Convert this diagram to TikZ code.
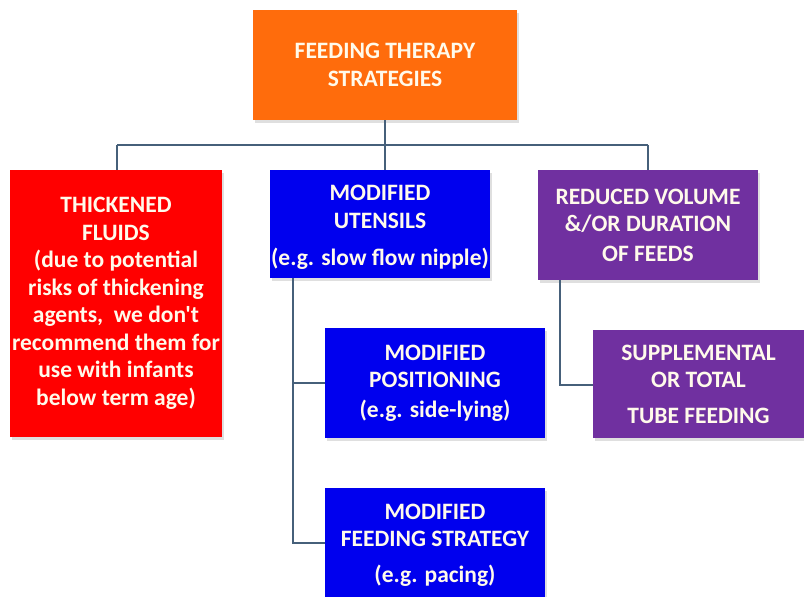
\documentclass[tikz,border=0pt]{standalone}
\usepackage{fontspec}
\setmainfont{Carlito}[Ligatures=TeXOff]
\usetikzlibrary{shadows}
\definecolor{orangebox}{RGB}{255,108,12}
\definecolor{redbox}{RGB}{255,0,0}
\definecolor{bluebox}{RGB}{0,0,238}
\definecolor{purplebox}{RGB}{112,48,160}
\definecolor{linkcol}{RGB}{70,96,122}
\definecolor{txtcol}{RGB}{255,250,235}
\tikzset{
  boxbase/.style={rectangle, inner sep=1pt, align=center, text=txtcol,
    font=\fontsize{23.5}{27.5}\selectfont\bfseries,
    drop shadow={shadow xshift=2pt, shadow yshift=-3pt, opacity=0.25, fill=gray}},
  orangenode/.style={boxbase, fill=orangebox},
  rednode/.style={boxbase, fill=redbox},
  bluenode/.style={boxbase, fill=bluebox},
  purplenode/.style={boxbase, fill=purplebox},
  link/.style={draw=linkcol, line width=1.8pt}
}
\begin{document}
\begin{tikzpicture}[x=1pt,y=-1pt]
\useasboundingbox (0,0) rectangle (804,597);
\clip (0,0) rectangle (804,597);
\fill[white] (0,0) rectangle (804,597);
% nodes
\node[orangenode, minimum width=264pt, minimum height=110pt] (top) at (385,65)
  {FEEDING THERAPY\\STRATEGIES};
\node[rednode, minimum width=212pt, minimum height=267pt] (thick) at (116,303.5)
  {THICKENED\\FLUIDS\\(due to potential\\risks of thickening\\agents,\ \ we don't\\recommend them for\\use with infants\\below term age)};
\node[bluenode, minimum width=220pt, minimum height=108pt] (utens) at (380,224)
  {\rule{0pt}{22pt}MODIFIED\\UTENSILS\\[10pt](e.g. slow flow nipple)};
\node[purplenode, minimum width=220pt, minimum height=110pt] (reduced) at (648,225)
  {REDUCED VOLUME\\\&/OR DURATION\\[2pt]OF FEEDS};
\node[bluenode, minimum width=220pt, minimum height=110pt] (posit) at (435,383)
  {MODIFIED\\POSITIONING\\[2pt](e.g. side-lying)};
\node[purplenode, minimum width=211pt, minimum height=108pt] (supp) at (698.5,384)
  {SUPPLEMENTAL\\OR TOTAL\\[8pt]TUBE FEEDING};
\node[bluenode, minimum width=220pt, minimum height=114pt] (strat) at (435,545)
  {MODIFIED\\FEEDING STRATEGY\\[8pt](e.g. pacing)};
% connectors
\coordinate (hub) at (385,145);
\coordinate (hl) at (117,145);
\coordinate (hr) at (648,145);
\draw[link] (top.south) -- (hub);
\draw[link] (hl) -- (hr);
\draw[link] (hl) -- (hl |- thick.north);
\draw[link] (hub) -- (hub |- utens.north);
\draw[link] (hr) -- (reduced.north);
\coordinate (ul) at (293,278);
\draw[link] (ul) -- (293,543) -- (strat.west |- 0,543);
\draw[link] (293,383) -- (posit.west);
\coordinate (rl) at (560,280);
\draw[link] (rl) -- (560,385) -- (supp.west |- 0,385);
\end{tikzpicture}
\end{document}
